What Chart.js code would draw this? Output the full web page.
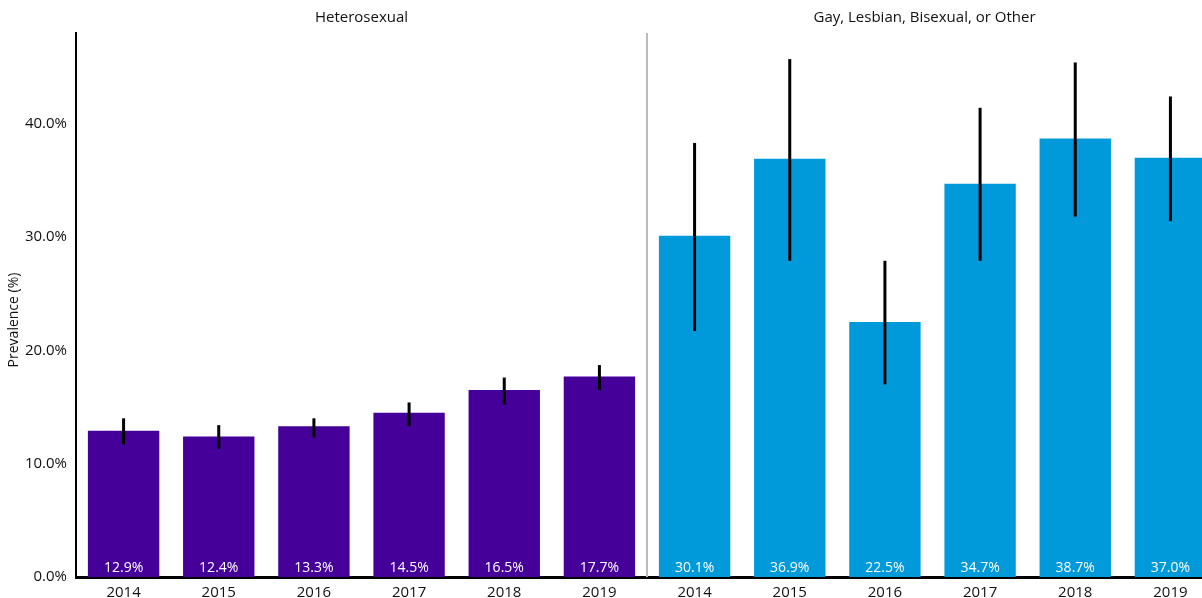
<!DOCTYPE html>
<html>
<head>
<meta charset="utf-8">
<script src="https://cdn.jsdelivr.net/npm/chart.js@4"></script>
<style>
  html, body { margin: 0; padding: 0; background: #fff; overflow: hidden; }
  #wrap { width: 1218px; height: 598px; position: relative; }
</style>
</head>
<body>
<div id="wrap"><canvas id="chart"></canvas></div>
<script>
// DATA
const years = ["2014", "2015", "2016", "2017", "2018", "2019"];
const groups = ["Heterosexual", "Gay, Lesbian, Bisexual, or Other"];
const heteroValues = [12.9, 12.4, 13.3, 14.5, 16.5, 17.7];
const heteroLower = [11.7, 11.3, 12.3, 13.3, 15.2, 16.5];
const heteroUpper = [14.0, 13.4, 14.0, 15.4, 17.6, 18.7];
const glbValues = [30.1, 36.9, 22.5, 34.7, 38.7, 37.0];
const glbLower = [21.7, 27.9, 17.0, 27.9, 31.8, 31.4];
const glbUpper = [38.3, 45.7, 27.9, 41.4, 45.4, 42.4];
const yTicks = [0, 10, 20, 30, 40];

const FONT = "'Open Sans', sans-serif";
const purple = "#440099";
const blue = "#009ADB";

const labels = years.concat(years);
const values = heteroValues.concat(glbValues);
const lower = heteroLower.concat(glbLower);
const upper = heteroUpper.concat(glbUpper);
const colors = values.map((v, i) => i < years.length ? purple : blue);

// ERROR BARS, LABELS, PANELS
const extras = {
    id: "extras",
    afterDatasetsDraw(chart) {
        const ctx = chart.ctx;
        const y = chart.scales.y;
        const x = chart.scales.x;
        const area = chart.chartArea;
        const bars = chart.getDatasetMeta(0).data;

        ctx.save();
        // divider
        const mid = (x.getPixelForValue(5) + x.getPixelForValue(6)) / 2;
        ctx.strokeStyle = "#bbbbbb";
        ctx.lineWidth = 2;
        ctx.beginPath();
        ctx.moveTo(mid, area.top);
        ctx.lineTo(mid, area.bottom);
        ctx.stroke();

        // error bars
        ctx.strokeStyle = "#000";
        ctx.lineWidth = 3;
        bars.forEach((b, i) => {
            ctx.beginPath();
            ctx.moveTo(b.x, y.getPixelForValue(lower[i]));
            ctx.lineTo(b.x, y.getPixelForValue(upper[i]));
            ctx.stroke();
        });

        // value labels
        ctx.fillStyle = "#fff";
        ctx.font = "14px " + FONT;
        ctx.textAlign = "center";
        ctx.textBaseline = "alphabetic";
        bars.forEach((b, i) => {
            ctx.fillText(values[i].toFixed(1) + "%", b.x, area.bottom - 5);
        });

        // panel titles
        ctx.fillStyle = "#111";
        ctx.font = "15px " + FONT;
        ctx.textBaseline = "middle";
        ctx.fillText(groups[0], (area.left + mid) / 2, 18);
        ctx.fillText(groups[1], (mid + 1202) / 2, 18);

        // y title
        ctx.save();
        ctx.translate(14, 320);
        ctx.rotate(-Math.PI / 2);
        ctx.font = "14px " + FONT;
        ctx.fillText("Prevalence (%)", 0, 0);
        ctx.restore();
        ctx.restore();
    }
};

const chart = new Chart(document.getElementById("chart"), {
    type: "bar",
    data: {
        labels: labels,
        datasets: [{
            data: values,
            backgroundColor: colors,
            barPercentage: 0.75,
            categoryPercentage: 1
        }]
    },
    options: {
        responsive: true,
        maintainAspectRatio: false,
        animation: false,
        layout: { padding: { top: 33, left: 0, right: 0, bottom: 0 } },
        plugins: { legend: { display: false }, tooltip: { enabled: false } },
        scales: {
            x: {
                grid: { display: false, drawTicks: false },
                border: { color: "#000", width: 3 },
                ticks: { color: "#111", font: { family: FONT, size: 15 }, padding: 7, autoSkip: false, maxRotation: 0 },
                afterFit: s => { s.height = 21; }
            },
            y: {
                min: 0,
                max: 48,
                grid: { display: false, drawTicks: false },
                border: { color: "#000", width: 2 },
                afterBuildTicks: s => { s.ticks = yTicks.map(v => ({ value: v })); },
                ticks: {
                    color: "#111",
                    font: { family: FONT, size: 15 },
                    padding: 9,
                    callback: v => v.toFixed(1) + "%"
                },
                afterFit: s => { s.width = 76; }
            }
        }
    },
    plugins: [extras]
});
</script>
</body>
</html>
